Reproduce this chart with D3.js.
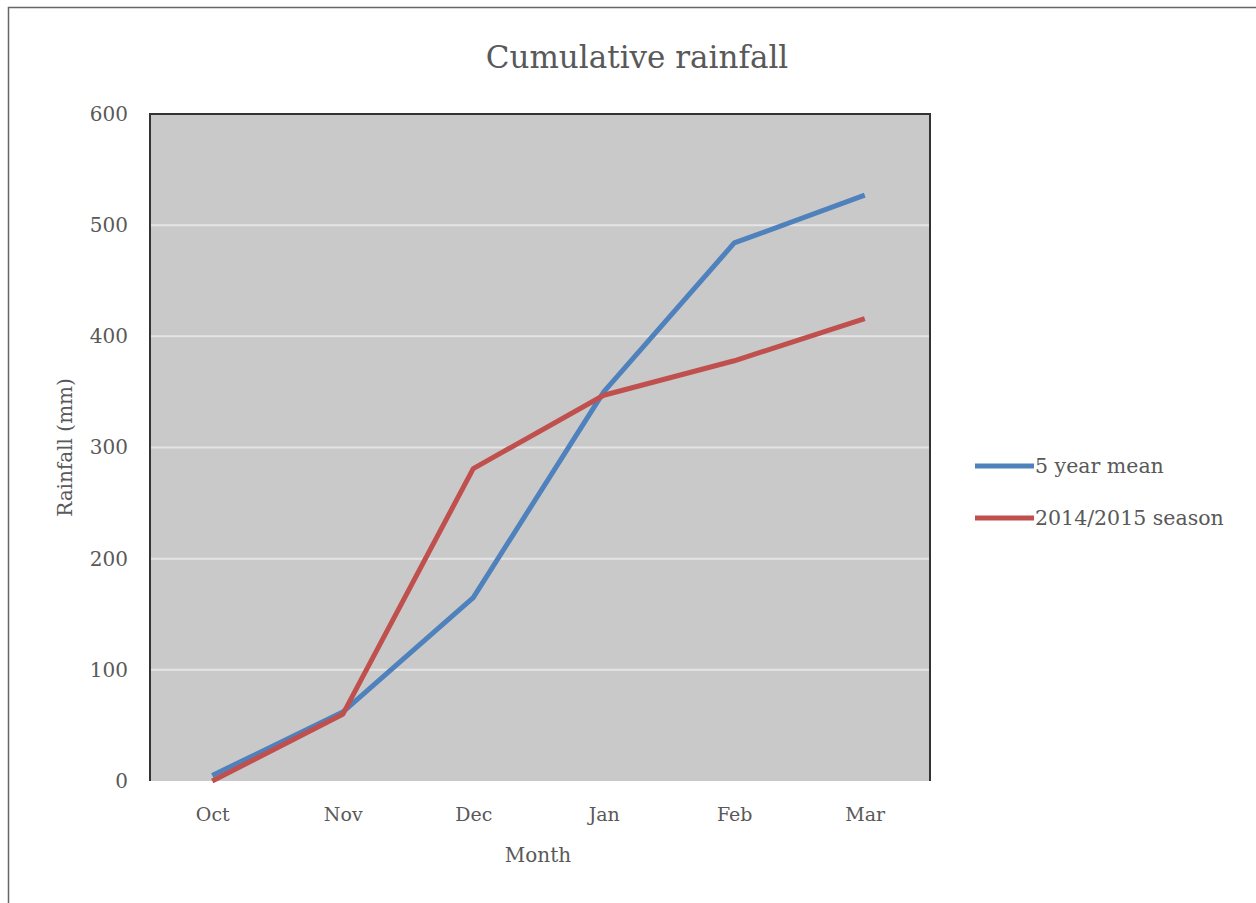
<!DOCTYPE html>
<html>
<head>
<meta charset="utf-8">
<script src="https://cdn.jsdelivr.net/npm/d3@7"></script>
<style>
  body { margin: 0; background: #fff; }
  text { font-family: "DejaVu Serif", "Liberation Serif", serif; fill: #595959; }
</style>
</head>
<body>
<div id="chart"></div>
<script>
// --- data -----------------------------------------------------------------
const months = ["Oct", "Nov", "Dec", "Jan", "Feb", "Mar"];
const meanFiveYear = [5, 62, 165, 350, 484, 527];
const season2014 = [0, 60, 281, 347, 378, 416];
const yTicks = [0, 100, 200, 300, 400, 500, 600];
const seriesNames = ["5 year mean", "2014/2015 season"];
const seriesColors = ["#4F81BD", "#C0504D"];

// --- layout ---------------------------------------------------------------
const W = 1256, H = 903;
const margin = { top: 114, left: 150, right: 326, bottom: 122 };
const plotW = W - margin.left - margin.right;
const plotH = H - margin.top - margin.bottom;

const svg = d3.select("#chart").append("svg")
  .attr("width", W).attr("height", H);

// outer frame (left + top edges visible in the reference)
svg.append("path")
  .attr("d", `M8.5,${H} V7.5 H${W}`)
  .attr("fill", "none").attr("stroke", "#666").attr("stroke-width", 1.5);

const g = svg.append("g").attr("transform", `translate(${margin.left},${margin.top})`);

const x = d3.scalePoint().domain(months).range([-3, plotW]).padding(0.5);
const y = d3.scaleLinear().domain([0, 600]).range([plotH, 0]);

// plot background
g.append("rect").attr("width", plotW).attr("height", plotH).attr("fill", "#C9C9C9");

// gridlines
g.selectAll(".grid").data(yTicks.filter(d => d > 0 && d < 600)).join("line")
  .attr("x1", 0).attr("x2", plotW)
  .attr("y1", d => y(d)).attr("y2", d => y(d))
  .attr("stroke", "#E4E4E4").attr("stroke-width", 2);

// plot border: top, left, right
g.append("path")
  .attr("d", `M0,${plotH} V0 H${plotW} V${plotH}`)
  .attr("fill", "none").attr("stroke", "#333").attr("stroke-width", 2);

// y axis labels
const yAxis = g.append("g")
  .call(d3.axisLeft(y).tickValues(yTicks).tickSize(0).tickPadding(22));
yAxis.select(".domain").remove();
yAxis.selectAll("text").style("font-size", "20px").attr("fill", "#6b6b6b");

// x axis labels
const xAxis = g.append("g").attr("transform", `translate(0,${plotH})`)
  .call(d3.axisBottom(x).tickSize(0).tickPadding(27));
xAxis.select(".domain").remove();
xAxis.selectAll("text").style("font-size", "19px").attr("fill", "#6b6b6b");

// lines
const line = d3.line().x((d, i) => x(months[i])).y(d => y(d));
[meanFiveYear, season2014].forEach((vals, i) => {
  g.append("path").datum(vals)
    .attr("d", line)
    .attr("fill", "none")
    .attr("stroke", seriesColors[i])
    .attr("stroke-width", 5)
    .attr("stroke-linejoin", "round");
});

// titles
svg.append("text").attr("x", 637).attr("y", 68)
  .attr("text-anchor", "middle").style("font-size", "31px")
  .text("Cumulative rainfall");

svg.append("text").attr("x", 538).attr("y", 862)
  .attr("text-anchor", "middle").style("font-size", "20px")
  .attr("fill", "#6b6b6b")
  .text("Month");

svg.append("text")
  .attr("transform", `translate(72,${margin.top + plotH / 2}) rotate(-90)`)
  .attr("text-anchor", "middle").style("font-size", "20px")
  .attr("fill", "#6b6b6b")
  .text("Rainfall (mm)");

// legend
const legend = svg.append("g").attr("transform", "translate(975,466)");
seriesNames.forEach((name, i) => {
  const row = legend.append("g").attr("transform", `translate(0,${i * 52})`);
  row.append("line").attr("x1", 0).attr("x2", 59)
    .attr("stroke", seriesColors[i]).attr("stroke-width", 5);
  row.append("text").attr("x", 60).attr("y", 7)
    .style("font-size", "20.5px").attr("fill", "#6b6b6b").text(name);
});
</script>
</body>
</html>
